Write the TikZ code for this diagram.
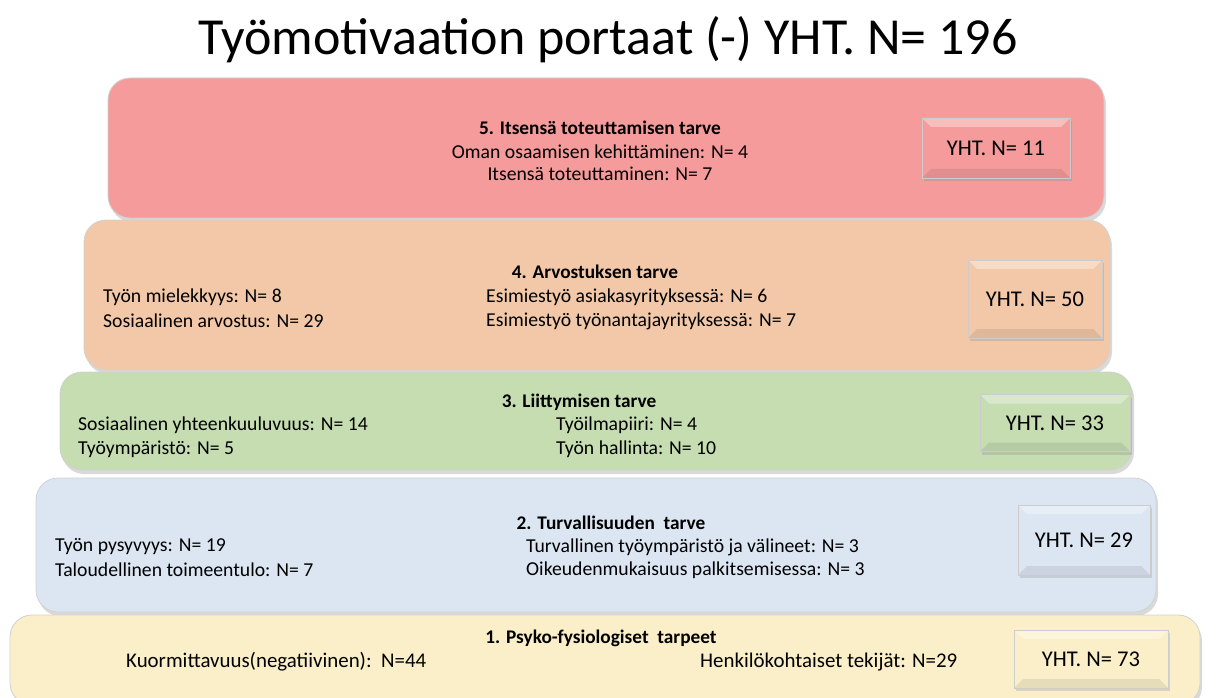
\documentclass[tikz,border=0pt]{standalone}
\usepackage{fontspec}
\setmainfont{Carlito}
\usetikzlibrary{shadows}

\definecolor{needred}{HTML}{F59B9B}
\definecolor{needorange}{HTML}{F2C8A8}
\definecolor{needgreen}{HTML}{C5DDB1}
\definecolor{needblue}{HTML}{DCE6F2}
\definecolor{needyellow}{HTML}{FBEFC9}

\begin{document}
\begin{tikzpicture}[x=1pt, y=-1pt]

\tikzstyle{stair}=[rounded corners=22pt, draw=black!18, line width=0.8pt, inner sep=0pt,
  drop shadow={shadow xshift=2pt, shadow yshift=-4pt, opacity=0.3}]
\tikzstyle{yht}=[draw=black!20, line width=0.6pt, font=\fontsize{22.5}{25}\selectfont,
  drop shadow={shadow xshift=2pt, shadow yshift=-3pt, opacity=0.25},
  path picture={
    \fill[white, opacity=0.35] (path picture bounding box.north west) -- (path picture bounding box.north east)
      -- ([shift={(-9pt,-9pt)}]path picture bounding box.north east) -- ([shift={(9pt,-9pt)}]path picture bounding box.north west) -- cycle;
    \fill[black, opacity=0.08] (path picture bounding box.south west) -- (path picture bounding box.south east)
      -- ([shift={(-9pt,9pt)}]path picture bounding box.south east) -- ([shift={(9pt,9pt)}]path picture bounding box.south west) -- cycle;
  }]
\tikzstyle{head}=[font=\bfseries\fontsize{19.3}{22}\selectfont, inner sep=0pt]
\tikzstyle{item}=[font=\fontsize{19.7}{22}\selectfont, inner sep=0pt]

\useasboundingbox (0,0) rectangle (1216,698);

% Title
\node[font=\fontsize{52}{58}\selectfont] (title) at (608,40) {Työmotivaation portaat (-) YHT. N= 196};

% 5. step
\node[stair, fill=needred, minimum width=996pt, minimum height=140pt] (s5) at (606,148) {};
\node[yht, fill=needred] (y5) at (996,148) [minimum width=148pt, minimum height=60pt] {YHT. N= 11};
\node[head] (h5) at (600,128) {5. Itsensä toteuttamisen tarve};
\node[item] (a5) at (600,152) {Oman osaamisen kehittäminen: N= 4};
\node[item] (b5) at (600,174) {Itsensä toteuttaminen: N= 7};

% 4. step
\node[stair, fill=needorange, minimum width=1026pt, minimum height=150pt] (s4) at (597,295) {};
\node[yht, fill=needorange] (y4) at (1035,299) [minimum width=134pt, minimum height=78pt] {YHT. N= 50};
\node[head] (h4) at (595,272) {4. Arvostuksen tarve};
\node[item, anchor=west] (a4) at (103,297) {Työn mielekkyys: N= 8};
\node[item, anchor=west] (b4) at (103,321) {Sosiaalinen arvostus: N= 29};
\node[item, anchor=west] (c4) at (486,297) {Esimiestyö asiakasyrityksessä: N= 6};
\node[item, anchor=west] (d4) at (486,321) {Esimiestyö työnantajayrityksessä: N= 7};

% 3. step
\node[stair, fill=needgreen, minimum width=1072pt, minimum height=98pt] (s3) at (596,421) {};
\node[yht, fill=needgreen] (y3) at (1055,423) [minimum width=150pt, minimum height=57pt] {YHT. N= 33};
\node[head] (h3) at (579,402) {3. Liittymisen tarve};
\node[item, anchor=west] (a3) at (78,425) {Sosiaalinen yhteenkuuluvuus: N= 14};
\node[item, anchor=west] (b3) at (78,449) {Työympäristö: N= 5};
\node[item, anchor=west] (c3) at (556,425) {Työilmapiiri: N= 4};
\node[item, anchor=west] (d3) at (556,449) {Työn hallinta: N= 10};

% 2. step
\node[stair, fill=needblue, minimum width=1120pt, minimum height=134pt] (s2) at (596,545) {};
\node[yht, fill=needblue] (y2) at (1084,540) [minimum width=132pt, minimum height=70pt] {YHT. N= 29};
\node[head] (h2) at (611,523) {2. Turvallisuuden\ \ tarve};
\node[item, anchor=west] (a2) at (55,547) {Työn pysyvyys: N= 19};
\node[item, anchor=west] (b2) at (55,570) {Taloudellinen toimeentulo: N= 7};
\node[item, anchor=west] (c2) at (526,547) {Turvallinen työympäristö ja välineet: N= 3};
\node[item, anchor=west] (d2) at (526,570) {Oikeudenmukaisuus palkitsemisessa: N= 3};

% 1. step
\node[stair, fill=needyellow, minimum width=1190pt, minimum height=90pt] (s1) at (605,660) {};
\node[yht, fill=needyellow] (y1) at (1091,659) [minimum width=154pt, minimum height=58pt] {YHT. N= 73};
\node[head] (h1) at (601,638) {1. Psyko-fysiologiset\ \ tarpeet};
\node[item, anchor=west, font=\fontsize{20.9}{23}\selectfont] (a1) at (126,662) {Kuormittavuus(negatiivinen):\ \ N=44};
\node[item, anchor=west, font=\fontsize{20.9}{23}\selectfont] (b1) at (700,662) {Henkilökohtaiset tekijät: N=29};

\end{tikzpicture}
\end{document}
